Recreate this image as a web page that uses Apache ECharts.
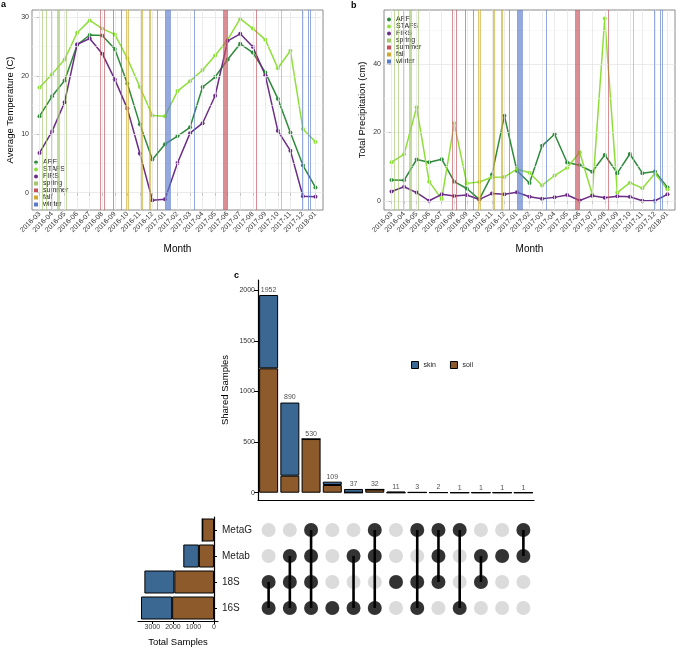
<!DOCTYPE html>
<html><head><meta charset="utf-8">
<script src="https://cdn.jsdelivr.net/npm/echarts@6/dist/echarts.min.js"></script>
<style>html,body{margin:0;padding:0;background:#fff}#c{width:676px;height:652px}</style>
</head><body><div id="c"></div><script>
// ---------- data ----------
const months = ['2016-03','2016-04','2016-05','2016-06','2016-07','2016-08','2016-09','2016-10','2016-11','2016-12',
  '2017-01','2017-02','2017-03','2017-04','2017-05','2017-06','2017-07','2017-08','2017-09','2017-10','2017-11','2017-12','2018-01'];
const tempARF   = [13.1,16.5,19.2,25.3,27.0,26.9,24.6,18.7,11.7,5.7,8.3,9.7,11.2,18.1,19.8,22.8,25.5,24.0,20.6,16.1,10.3,4.7,0.9];
const tempSTAFS = [18.0,20.3,22.8,27.4,29.5,28.1,27.1,23.0,18.1,13.2,13.1,17.4,19.1,21.0,23.5,26.2,29.8,28.1,26.2,21.3,24.3,10.9,8.7];
const tempFIRS  = [6.8,10.5,15.5,25.4,26.4,23.8,19.4,14.4,6.7,-1.3,-1.1,5.1,10.2,11.9,16.6,26.0,27.2,25.0,20.1,10.6,7.2,-0.6,-0.7];
const precARF   = [6.1,6.0,12.1,11.3,12.2,5.6,3.6,0.4,7.6,24.9,8.8,5.2,16.1,19.5,11.2,10.4,8.5,13.4,8.1,13.7,8.1,8.6,3.9];
const precSTAFS = [11.3,13.6,27.4,5.6,0.5,22.7,5.1,5.5,6.9,7.0,9.3,8.2,4.5,7.4,9.7,14.2,1.9,53.4,2.4,5.3,3.7,8.0,3.4];
const precFIRS  = [2.7,4.1,2.4,0.0,1.9,1.4,1.7,0.4,2.1,1.9,2.5,1.2,0.6,1.0,1.7,0.1,1.5,0.9,1.3,1.2,0.0,0.0,1.9];
// sampling dates, in month-index units (0 = 2016-03)
const springDates = [0.25,0.55,0.95,1.4,1.5,1.6,2.1];
const summerDates = [4.85,5.17,5.85,6.5,14.66,14.73,14.8,14.87,14.94,17.3];
const fallDates   = [6.95,7.05,8.1,8.2,8.75,8.85,19.3];
const winterDates = [9.38,10.05,10.12,10.19,10.26,10.33,10.4,12.33,20.98,21.42,21.6];
const tempTicks = [0,10,20,30];
const tempMinor = [5,15,25];
const precTicks = [0,20,40];
const precMinor = [10,30,50];
// upset
const setNames = ['16S','18S','Metab','MetaG'];          // bottom -> top
const memberSets = [
  ['18S','16S'], ['Metab','18S','16S'], ['MetaG','Metab','18S','16S'], ['16S'], ['Metab','16S'],
  ['MetaG','Metab','16S'], ['18S'], ['MetaG','18S','16S'], ['MetaG','Metab','18S'], ['MetaG','16S'],
  ['Metab','18S'], ['Metab'], ['MetaG','Metab']
];
const skinCounts = [724,722,0,33,37,0,11,0,0,0,0,0,0];
const soilCounts = [1228,168,530,76,0,32,0,3,2,1,1,1,1];
const sharedTicks = [0,500,1000,1500,2000];
const totalTicks = [0,1000,2000,3000];

// ---------- styling ----------
const FONT = 'Liberation Sans';
const C = {ARF:'#2f8a3c', STAFS:'#8fdf3b', FIRS:'#6b2d86', spring:'#a3c76a', summer:'#c8505a',
  fall:'#cfaa2e', winter:'#5a7bcc', skin:'#3b6793', soil:'#8c5a2b'};
const monthIdx = months.map((_, i) => i);
const plain = v => String(v);

function gridSeries(gi, major, minor) {
  return [
    {type:'line', xAxisIndex:gi, yAxisIndex:gi, data:[], z:1, silent:true,
      markLine:{silent:true, symbol:'none', animation:false, label:{show:false},
        lineStyle:{color:'#f3f3f3', width:0.6, type:'solid'}, data: minor.map(v => ({yAxis:v}))}},
    {type:'line', xAxisIndex:gi, yAxisIndex:gi, data:[], z:1, silent:true,
      markLine:{silent:true, symbol:'none', animation:false, label:{show:false},
        lineStyle:{color:'#e6e6e6', width:0.8, type:'solid'},
        data: major.map(v => ({yAxis:v})).concat(monthIdx.map(i => ({xAxis:i})))}}
  ];
}
function seasonSeries(name, dates, gi) {
  return {name, type:'line', xAxisIndex:gi, yAxisIndex:gi, data:[], color:C[name], itemStyle:{color:C[name]}, z:2,
    markLine:{silent:true, symbol:'none', animation:false, label:{show:false},
      lineStyle:{color:C[name], width:1, type:'solid', opacity:0.65}, data: dates.map(d => ({xAxis:d}))}};
}
function dataSeries(name, vals, gi) {
  return {name, type:'line', xAxisIndex:gi, yAxisIndex:gi, data: vals.map((v, i) => [i, v]), color:C[name],
    symbol:'circle', symbolSize:4, showSymbol:true, lineStyle:{width:1.5, color:C[name]}, itemStyle:{color:C[name]}, z:3, animation:false};
}
function panelSeries(gi, a, s, f, major, minor) {
  return [].concat(gridSeries(gi, major, minor),
    [seasonSeries('spring', springDates, gi), seasonSeries('summer', summerDates, gi),
     seasonSeries('fall', fallDates, gi), seasonSeries('winter', winterDates, gi),
     dataSeries('ARF', a, gi), dataSeries('STAFS', s, gi), dataSeries('FIRS', f, gi)]);
}
function monthXAxis(gi) {
  return {gridIndex:gi, type:'value', min:-0.6, max:22.6, axisLine:{show:false}, splitLine:{show:false},
    axisTick:{show:true, customValues:monthIdx, length:3, lineStyle:{color:'#333'}},
    axisLabel:{customValues:monthIdx, formatter: v => months[Math.round(v)], rotate:45, fontSize:7, color:'#333', margin:3, fontFamily:FONT},
    name:'Month', nameLocation:'middle', nameGap:34, nameTextStyle:{fontSize:10, color:'#000', fontFamily:FONT}};
}
function valYAxis(gi, min, max, ticks, name) {
  return {gridIndex:gi, type:'value', min, max, axisLine:{show:false}, splitLine:{show:false},
    axisTick:{show:true, customValues:ticks, length:3, lineStyle:{color:'#333'}},
    axisLabel:{customValues:ticks, formatter:plain, fontSize:7, color:'#333', margin:3, fontFamily:FONT},
    name, nameLocation:'middle', nameGap:17, nameTextStyle:{fontSize:9.5, color:'#000', fontFamily:FONT}};
}
function legendFor(left, top) {
  return {left, top, orient:'vertical', itemGap:0, itemWidth:4, itemHeight:4, padding:0, selectedMode:false,
    textStyle:{fontSize:7, lineHeight:6, color:'#222', fontFamily:FONT},
    data:[{name:'ARF',icon:'circle'},{name:'STAFS',icon:'circle'},{name:'FIRS',icon:'circle'},
      {name:'spring',icon:'rect'},{name:'summer',icon:'rect'},{name:'fall',icon:'rect'},{name:'winter',icon:'rect'}]};
}

// upset derived tables
const colNames = memberSets.map(s => s.join('&'));
const totals = skinCounts.map((v, i) => v + soilCounts[i]);
const setSkin = setNames.map(n => memberSets.reduce((acc, s, i) => acc + (s.includes(n) ? skinCounts[i] : 0), 0));
const setSoil = setNames.map(n => memberSets.reduce((acc, s, i) => acc + (s.includes(n) ? soilCounts[i] : 0), 0));
const grayDots = [], blackDots = [];
memberSets.forEach((s, ci) => setNames.forEach((n, ri) => (s.includes(n) ? blackDots : grayDots).push([ci, ri])));
const connectors = memberSets.filter(s => s.length > 1).map(s => {
  const ci = memberSets.indexOf(s);
  const rows = s.map(n => setNames.indexOf(n));
  return {type:'line', xAxisIndex:4, yAxisIndex:4, data:[[ci, Math.min(...rows)], [ci, Math.max(...rows)]],
    symbol:'none', lineStyle:{color:'#000', width:2.6}, z:4, animation:false, silent:true};
});
const barBorder = {borderColor:'#000', borderWidth:1};

const option = {
  animation:false,
  textStyle:{fontFamily:FONT},
  grid:[
    {left:32, top:10, width:291, height:200, show:true, borderColor:'#8a8a8a', borderWidth:1},
    {left:384, top:10, width:291, height:200, show:true, borderColor:'#8a8a8a', borderWidth:1},
    {left:258, top:280, width:276, height:220},
    {left:138, top:517, width:80, height:104},
    {left:258, top:517, width:276, height:104}
  ],
  xAxis:[
    monthXAxis(0), monthXAxis(1),
    {gridIndex:2, type:'category', data:colNames, axisLine:{onZero:false, lineStyle:{color:'#000', width:1.2}},
      axisTick:{alignWithLabel:true, length:4, lineStyle:{color:'#000'}}, axisLabel:{show:false}},
    {gridIndex:3, type:'value', inverse:true, min:-195, max:3700, splitLine:{show:false},
      axisLine:{show:true, onZero:false, lineStyle:{color:'#000', width:1.2}},
      axisTick:{show:true, customValues:totalTicks, length:3, lineStyle:{color:'#000'}},
      axisLabel:{customValues:totalTicks, formatter:plain, fontSize:7, color:'#333', margin:3},
      name:'Total Samples', nameLocation:'middle', nameGap:16, nameTextStyle:{fontSize:9.5, color:'#000'}},
    {gridIndex:4, type:'category', data:colNames, show:false}
  ],
  yAxis:[
    valYAxis(0, -2.96, 31.28, tempTicks, 'Average Temperature (C)'),
    valYAxis(1, -2.7, 55.9, precTicks, 'Total Precipitation (cm)'),
    {gridIndex:2, type:'value', min:-72, max:2100, splitLine:{show:false},
      axisLine:{show:true, lineStyle:{color:'#000', width:1.2}},
      axisTick:{show:true, customValues:sharedTicks, length:4, lineStyle:{color:'#000'}},
      axisLabel:{customValues:sharedTicks, formatter:plain, fontSize:7, color:'#333', margin:3},
      name:'Shared Samples', nameLocation:'middle', nameGap:28, nameTextStyle:{fontSize:9.5, color:'#000'}},
    {gridIndex:3, type:'category', data:setNames, position:'right',
      axisLine:{show:true, lineStyle:{color:'#000', width:1.2}},
      axisTick:{show:true, alignWithLabel:true, length:3, lineStyle:{color:'#000'}},
      axisLabel:{fontSize:10, color:'#222', margin:4}},
    {gridIndex:4, type:'category', data:setNames, show:false}
  ],
  legend:[
    legendFor(34, 159),
    legendFor(387, 16),
    {left:411, top:361, orient:'horizontal', itemWidth:7, itemHeight:7, itemGap:14, padding:0, selectedMode:false,
      textStyle:{fontSize:7, color:'#222'}, itemStyle:{borderColor:'#000', borderWidth:1},
      data:[{name:'skin',icon:'rect'},{name:'soil',icon:'rect'}]}
  ],
  graphic:[
    {type:'text', left:1, top:0, style:{text:'a', fontSize:9, fontWeight:'bold', fill:'#000', fontFamily:FONT}},
    {type:'text', left:351, top:1, style:{text:'b', fontSize:9, fontWeight:'bold', fill:'#000', fontFamily:FONT}},
    {type:'text', left:234, top:271, style:{text:'c', fontSize:9, fontWeight:'bold', fill:'#000', fontFamily:FONT}}
  ],
  series: [].concat(
    panelSeries(0, tempARF, tempSTAFS, tempFIRS, tempTicks, tempMinor),
    panelSeries(1, precARF, precSTAFS, precFIRS, precTicks, precMinor),
    [
      {name:'soil', type:'bar', xAxisIndex:2, yAxisIndex:2, stack:'c', data:soilCounts, barWidth:19, color:C.soil,
        itemStyle:Object.assign({color:C.soil}, barBorder)},
      {name:'skin', type:'bar', xAxisIndex:2, yAxisIndex:2, stack:'c', data:skinCounts, barWidth:19, color:C.skin,
        itemStyle:Object.assign({color:C.skin}, barBorder)},
      {type:'scatter', xAxisIndex:2, yAxisIndex:2, data:totals, symbolSize:1, itemStyle:{color:'rgba(0,0,0,0)'}, silent:true,
        label:{show:true, position:'top', distance:1, fontSize:7, color:'#222', formatter: p => p.value}},
      {name:'soil', type:'bar', xAxisIndex:3, yAxisIndex:3, stack:'d', data:setSoil, barWidth:23, color:C.soil,
        itemStyle:Object.assign({color:C.soil}, barBorder)},
      {name:'skin', type:'bar', xAxisIndex:3, yAxisIndex:3, stack:'d', data:setSkin, barWidth:23, color:C.skin,
        itemStyle:Object.assign({color:C.skin}, barBorder)},
      {type:'scatter', xAxisIndex:4, yAxisIndex:4, data:grayDots, symbolSize:14, itemStyle:{color:'#d2d2d2'}, z:3, silent:true}
    ],
    connectors,
    [{type:'scatter', xAxisIndex:4, yAxisIndex:4, data:blackDots, symbolSize:14, itemStyle:{color:'#000'}, z:5, silent:true}]
  )
};
const chart = echarts.init(document.getElementById('c'), null, {renderer:'canvas'});
chart.setOption(option);
</script></body></html>
